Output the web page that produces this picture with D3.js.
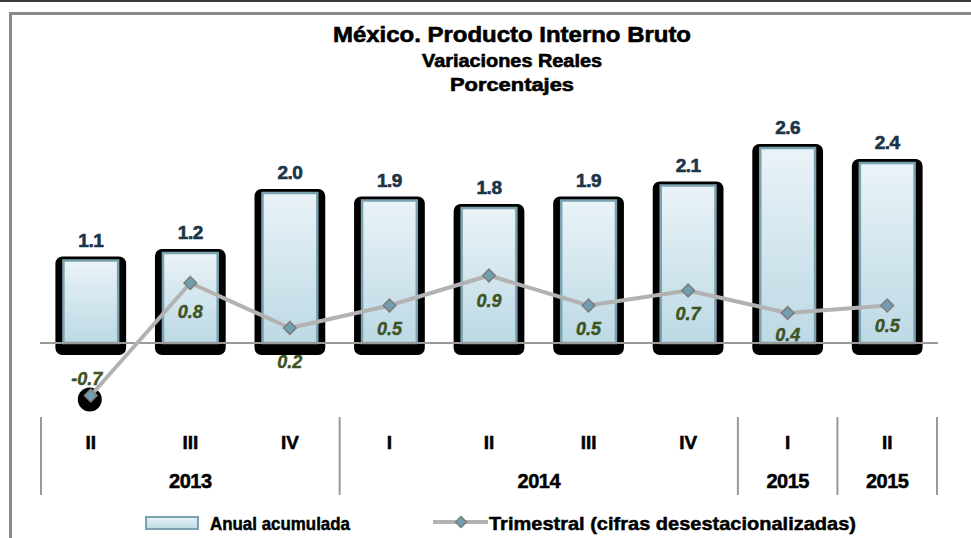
<!DOCTYPE html>
<html><head><meta charset="utf-8">
<script src="https://cdn.jsdelivr.net/npm/d3@7"></script>
<style>
html,body{margin:0;padding:0;background:#fff;}
svg{display:block;font-family:"Liberation Sans",Arial,sans-serif;}
</style></head>
<body><svg id="c" width="971" height="538"></svg>
<script>
const quarters = ["II","III","IV","I","II","III","IV","I","II"];
const yearGroups = [
  {year:"2013", from:0, to:2},
  {year:"2014", from:3, to:6},
  {year:"2015", from:7, to:7},
  {year:"2015", from:8, to:8}
];
const anual = [1.1, 1.2, 2.0, 1.9, 1.8, 1.9, 2.1, 2.6, 2.4];
const trimestral = [-0.7, 0.8, 0.2, 0.5, 0.9, 0.5, 0.7, 0.4, 0.5];
const titles = ["México. Producto Interno Bruto", "Variaciones  Reales", "Porcentajes"];
const legendLabels = ["Anual acumulada", "Trimestral (cifras desestacionalizadas)"];

const svg = d3.select("#c");
const W = 971, H = 538;

// outer decoration
svg.append("rect").attr("x",0).attr("y",0).attr("width",W).attr("height",2).attr("fill","#3a3a3a");
svg.append("rect").attr("x",10.5).attr("y",13.5).attr("width",W+20).attr("height",H+20)
  .attr("fill","none").attr("stroke","#8a8a8a").attr("stroke-width",3);

const idx = d3.range(quarters.length);
const x = d3.scaleBand().domain(idx).range([41, 937]).paddingInner(0.43).paddingOuter(0.215);
const y = d3.scaleLinear().domain([-1, 3]).range([418, 118]);
const y0 = y(0);

const defs = svg.append("defs");
const g = defs.append("linearGradient").attr("id","bg").attr("x1",0).attr("y1",0).attr("x2",0).attr("y2",1);
g.append("stop").attr("offset","0%").attr("stop-color","#eaf3f8");
g.append("stop").attr("offset","100%").attr("stop-color","#bcd9e4");

function heavy(sel, w){ return sel.attr("stroke", sel.attr("fill")).attr("stroke-width", w).attr("paint-order","stroke"); }

// titles
const tsz = [22, 18, 18], ty = [42, 67, 91], tlen = [358, 180, 124];
titles.forEach((t,i)=>{
  const tx = svg.append("text").attr("x",512).attr("y",ty[i]).attr("text-anchor","middle")
    .attr("font-size",tsz[i]).attr("font-weight","bold")
    .attr("textLength",tlen[i]).attr("lengthAdjust","spacingAndGlyphs")
    .attr("fill","#000").text(t);
  heavy(tx, 0.6);
});

// bar shadows
svg.selectAll("rect.sh").data(anual).enter().append("rect").attr("class","sh")
  .attr("x",(d,i)=>x(i)-7).attr("y",d=>y(d)-4)
  .attr("width",x.bandwidth()+14).attr("height",d=>y0+12-(y(d)-4))
  .attr("rx",7).attr("fill","#000");
// bars
svg.selectAll("rect.bar").data(anual).enter().append("rect").attr("class","bar")
  .attr("x",(d,i)=>x(i)+1).attr("y",d=>y(d))
  .attr("width",x.bandwidth()-2).attr("height",d=>y0-y(d))
  .attr("fill","url(#bg)").attr("stroke","#7aa2b0").attr("stroke-width",2.5);

// bar labels
heavy(svg.selectAll("text.bl").data(anual).enter().append("text").attr("class","bl")
  .attr("x",(d,i)=>x(i)+x.bandwidth()/2).attr("y",d=>y(d)-14)
  .attr("text-anchor","middle").attr("font-size",19).attr("font-weight","bold")
  .attr("fill","#1b3448").attr("letter-spacing",-0.5).text(d=>d.toFixed(1)), 0.6);

// zero line
svg.append("line").attr("x1",40).attr("x2",938).attr("y1",y0).attr("y2",y0)
  .attr("stroke","#9a9a9a").attr("stroke-width",2);

// line series
const cx = i => x(i)+x.bandwidth()/2;
svg.append("circle").attr("cx",cx(0)-1).attr("cy",y(trimestral[0])+4).attr("r",12).attr("fill","#000");
const line = d3.line().x((d,i)=>cx(i)).y(d=>y(d));
svg.append("path").datum(trimestral).attr("d",line).attr("fill","none")
  .attr("stroke","#b2b2b2").attr("stroke-width",4).attr("stroke-linejoin","round");
svg.selectAll("path.mk").data(trimestral).enter().append("path").attr("class","mk")
  .attr("d",d3.symbol().type(d3.symbolSquare).size(80))
  .attr("transform",(d,i)=>`translate(${cx(i)},${y(d)}) rotate(45)`)
  .attr("fill","#6f9fb0").attr("stroke","#7d7d7d").attr("stroke-width",1.5);

const lblOff = [-11, 35, 40, 29, 31, 29, 29, 28, 26];
const lblDx = [-4, 0, 0, 0, 0, 0, 0, 0, 0];
heavy(svg.selectAll("text.ll").data(trimestral).enter().append("text").attr("class","ll")
  .attr("x",(d,i)=>cx(i)+lblDx[i]).attr("y",(d,i)=>y(d)+lblOff[i])
  .attr("text-anchor","middle").attr("font-size",18).attr("font-weight","bold")
  .attr("font-style","italic").attr("fill","#3e5222").text(d=>d.toFixed(1)), 0.4);

// category axis
heavy(svg.selectAll("text.q").data(quarters).enter().append("text").attr("class","q")
  .attr("x",(d,i)=>cx(i)).attr("y",449).attr("text-anchor","middle")
  .attr("font-size",19).attr("font-weight","bold").attr("fill","#000").text(d=>d), 0.5);
const step = x.step(), x0 = x.range()[0];
const seps = [0].concat(yearGroups.map(gr=>gr.to+1));
svg.selectAll("line.sep").data(seps).enter().append("line").attr("class","sep")
  .attr("x1",d=>x0+d*step).attr("x2",d=>x0+d*step).attr("y1",417).attr("y2",495)
  .attr("stroke","#999").attr("stroke-width",2);
heavy(svg.selectAll("text.yr").data(yearGroups).enter().append("text").attr("class","yr")
  .attr("x",d=>x0+(d.from+d.to+1)/2*step).attr("y",488).attr("text-anchor","middle")
  .attr("font-size",20).attr("font-weight","bold").attr("letter-spacing",-0.5).attr("fill","#000").text(d=>d.year), 0.5);

// legend
svg.append("rect").attr("x",146).attr("y",517).attr("width",52).attr("height",12)
  .attr("fill","url(#bg)").attr("stroke","#7aa2b0").attr("stroke-width",2);
heavy(svg.append("text").attr("x",210).attr("y",530).attr("font-size",19).attr("font-weight","bold")
  .attr("textLength",140).attr("lengthAdjust","spacingAndGlyphs")
  .attr("fill","#000").text(legendLabels[0]), 0.5);
svg.append("line").attr("x1",433).attr("x2",488).attr("y1",522).attr("y2",522)
  .attr("stroke","#b2b2b2").attr("stroke-width",4);
svg.append("path").attr("d",d3.symbol().type(d3.symbolSquare).size(60))
  .attr("transform","translate(461,522) rotate(45)")
  .attr("fill","#6f9fb0").attr("stroke","#7d7d7d").attr("stroke-width",1.5);
heavy(svg.append("text").attr("x",489).attr("y",530).attr("font-size",19).attr("font-weight","bold")
  .attr("textLength",367).attr("lengthAdjust","spacingAndGlyphs")
  .attr("fill","#000").text(legendLabels[1]), 0.5);
</script></body></html>
